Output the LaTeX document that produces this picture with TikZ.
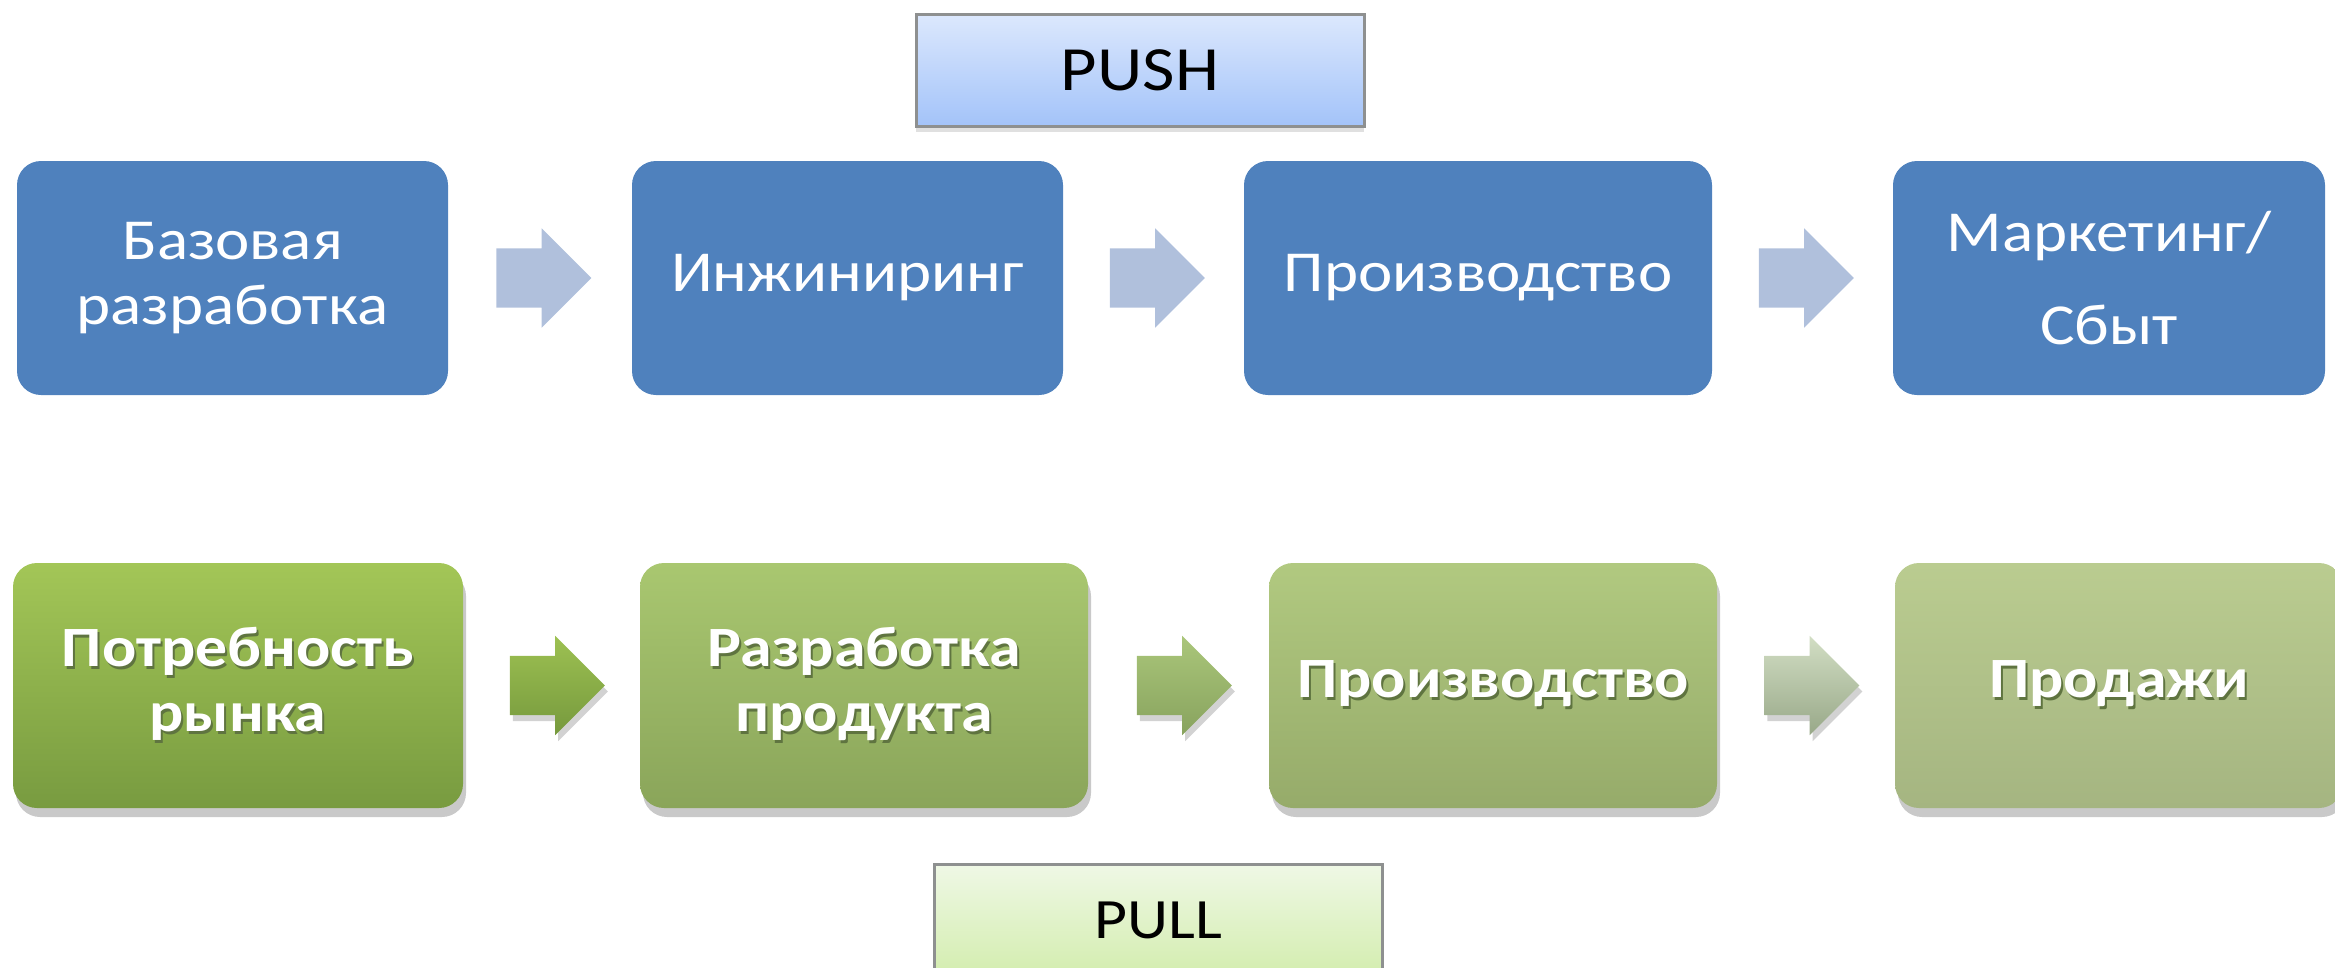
\documentclass[tikz,border=0pt]{standalone}
\usepackage{fontspec}
\setmainfont{Carlito}[FakeStretch=1.12]
\usetikzlibrary{positioning, calc, shapes.arrows, shadows}

\definecolor{pushblue}{HTML}{4F81BD}
\definecolor{pushgrey}{HTML}{B0C0DC}
\definecolor{tagline}{HTML}{8E9090}
\definecolor{textshade}{HTML}{5F7440}

\newcommand\shtext[1]{\makebox[0pt][l]{\hspace{2pt}\raisebox{-3pt}{\textcolor{textshade}{#1}}}#1}

\tikzset{
  pushbox/.style={rectangle, rounded corners=24pt, fill=pushblue, text=white, align=center,
    minimum width=431pt, minimum height=234pt, inner sep=0pt, font=\fontsize{58}{65}\selectfont},
  pullbox/.style={rectangle, rounded corners=24pt, text=white, align=center,
    minimum width=448pt, minimum height=245pt, inner sep=0pt, font=\bfseries\fontsize{57}{65}\selectfont,
    drop shadow={shadow xshift=3pt, shadow yshift=-9pt, opacity=0.3, fill=black!70}},
  pusharrow/.style={single arrow, single arrow head extend=20pt, minimum height=95pt,
    text height=59pt, inner sep=0pt, xshift=-11pt, fill=pushgrey},
  pullarrow/.style={single arrow, single arrow head extend=20pt, minimum height=95pt,
    text height=59pt, inner sep=0pt, xshift=-9pt,
    drop shadow={shadow xshift=3pt, shadow yshift=-6pt, opacity=0.25, fill=black!70}},
  tagbox/.style={rectangle, draw=tagline, line width=3pt, minimum width=448pt, minimum height=112pt,
    inner sep=0pt, font=\fontsize{63}{63}\selectfont,
    drop shadow={shadow xshift=0pt, shadow yshift=-6pt, opacity=0.2, fill=black!60}},
}

\begin{document}
\begin{tikzpicture}[x=1pt, y=-1pt, node distance=615pt, on grid]
   \useasboundingbox (0,0) rectangle (2335,967);

   % push
   \node (push)[tagbox, top color={rgb,255:red,220;green,232;blue,253}, bottom color={rgb,255:red,163;green,195;blue,249}] at (1140,70) {PUSH};

   \node (bas)[pushbox] at (232.5,278) {Базовая\\разработка};
   \node (eng)[pushbox, right = of bas] {Инжиниринг};
   \node (prod)[pushbox, minimum width=468pt, right = 630.5pt of eng] {Производство};
   \node (mark)[pushbox, minimum width=432pt, right = 631pt of prod] {Маркетинг/\\[28pt]Сбыт};

   \node (pa)[pusharrow] at ($(bas.east)!0.5!(eng.west)$) {};
   \node (pb)[pusharrow] at ($(eng.east)!0.5!(prod.west)$) {};
   \node (pc)[pusharrow] at ($(prod.east)!0.5!(mark.west)$) {};

   % pull
   \node (need)[pullbox, minimum width=450pt, top color={rgb,255:red,163;green,198;blue,87}, bottom color={rgb,255:red,120;green,155;blue,64}] at (238,685.5) {\shtext{Потребность}\\\shtext{рынка}};
   \node (dev)[pullbox, right = 626pt of need, top color={rgb,255:red,169;green,199;blue,112}, bottom color={rgb,255:red,138;green,165;blue,90}] {\shtext{Разработка}\\\shtext{продукта}};
   \node (make)[pullbox, right = 629pt of dev, top color={rgb,255:red,177;green,201;blue,128}, bottom color={rgb,255:red,150;green,171;blue,106}] {\shtext{Производство}};
   \node (sale)[pullbox, right = 626pt of make, top color={rgb,255:red,186;green,204;blue,144}, bottom color={rgb,255:red,165;green,181;blue,129}] {\shtext{Продажи}};

   \node (qa)[pullarrow, top color={rgb,255:red,157;green,193;blue,82}, bottom color={rgb,255:red,118;green,153;blue,61}] at ($(need.east)!0.5!(dev.west)$) {};
   \node (qb)[pullarrow, top color={rgb,255:red,170;green,198;blue,122}, bottom color={rgb,255:red,136;green,163;blue,94}] at ($(dev.east)!0.5!(make.west)$) {};
   \node (qc)[pullarrow, top color={rgb,255:red,210;green,222;blue,196}, bottom color={rgb,255:red,152;green,168;blue,136}] at ($(make.east)!0.5!(sale.west)$) {};

   \node (pull)[tagbox, font=\fontsize{57}{57}\selectfont, top color={rgb,255:red,239;green,248;blue,230}, bottom color={rgb,255:red,211;green,237;blue,174}] at (1158,920) {PULL};

\end{tikzpicture}
\end{document}
